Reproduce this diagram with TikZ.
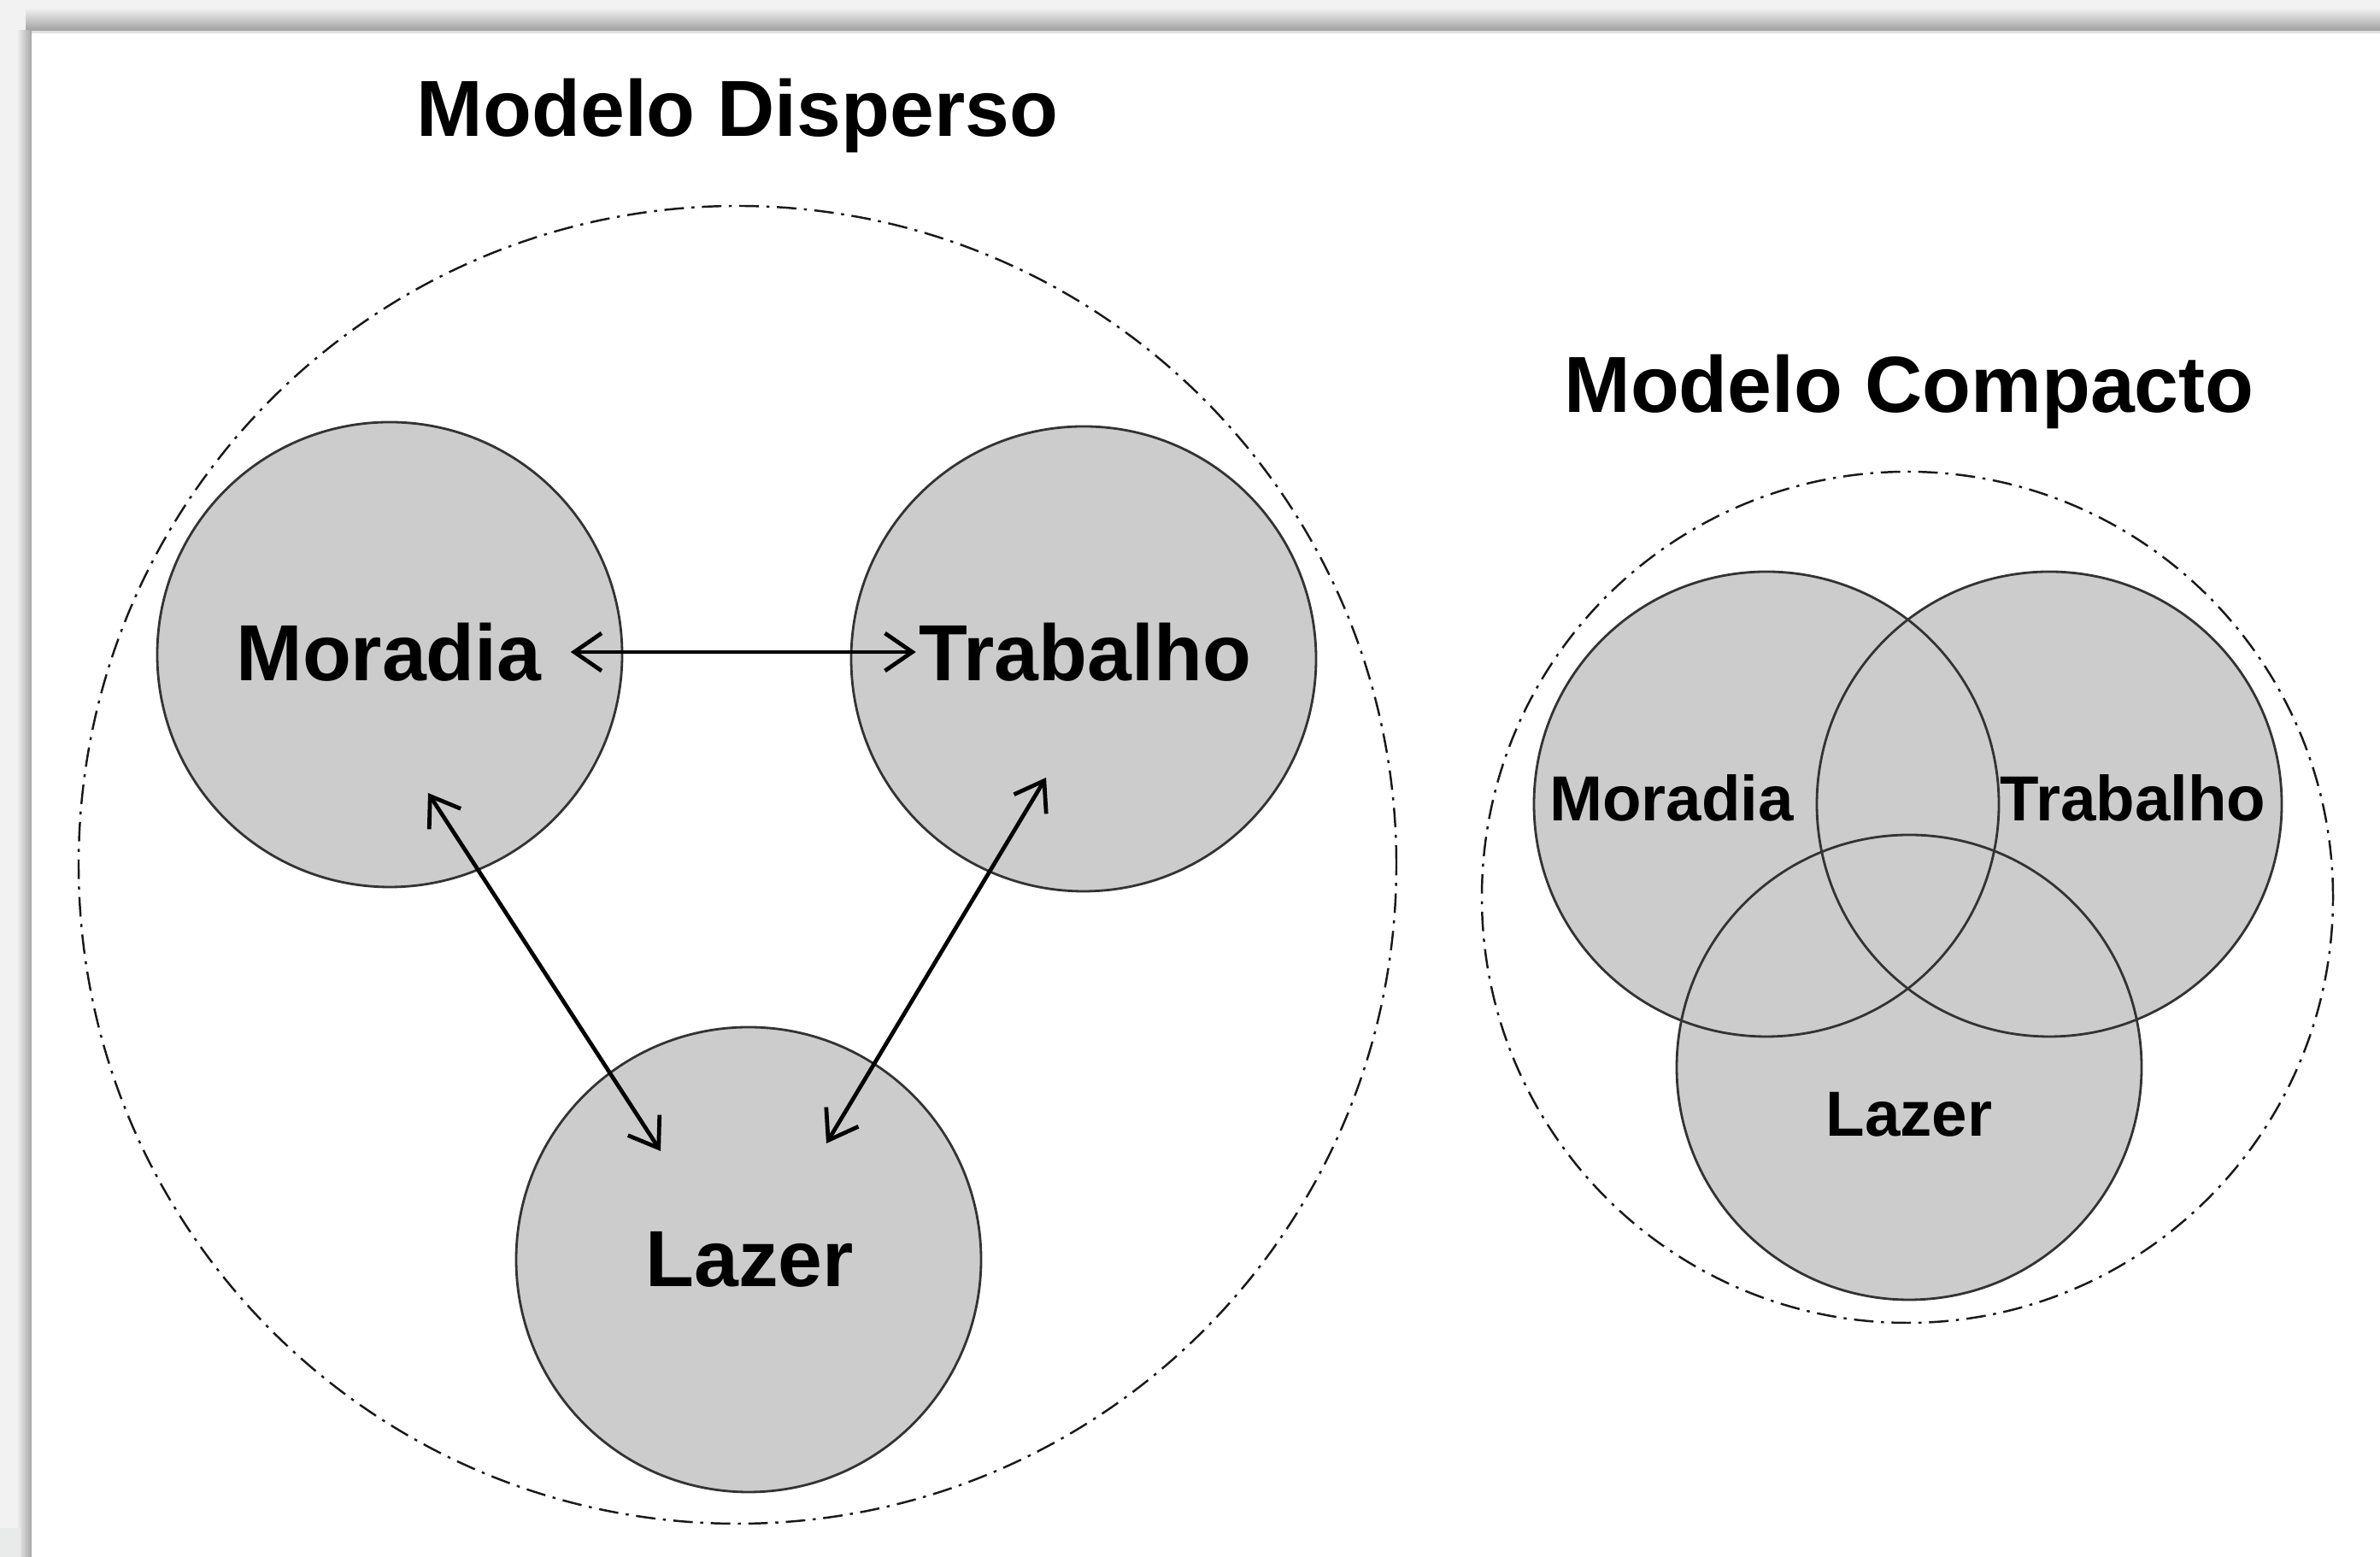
\documentclass[tikz,border=0pt]{standalone}
\usepackage{fontspec}
\setmainfont{Liberation Sans}
\usetikzlibrary{arrows.meta}

\begin{document}
\begin{tikzpicture}[
        area/.style={circle,fill=black!20,minimum size=5.44cm,inner sep=0pt},
        borda/.style={draw=black!80,line width=0.8pt},
        limite/.style={circle,draw=black!90,line width=0.7pt,dash pattern=on 6.5pt off 2.5pt on 1pt off 2.5pt,inner sep=0pt},
        rotulo/.style={font=\bfseries\fontsize{26.5}{31}\selectfont,inner sep=1pt},
        rotulop/.style={font=\bfseries\fontsize{21.2}{25}\selectfont,inner sep=1pt},
        seta/.style={line width=1.35pt,{Straight Barb[length=3.2mm,width=4.4mm]}-{Straight Barb[length=3.2mm,width=4.4mm]}}
    ]
        % moldura
        \fill[white] (0,0) rectangle (27.85,18.22);
        \useasboundingbox (0,0) rectangle (27.85,18.22);
        \fill[black!5] (0,17.83) rectangle (27.85,18.22);
        \fill[black!5] (0,0) rectangle (0.37,18.22);
        \shade[top color=black!6,bottom color=black!37] (0.30,17.86) rectangle (27.85,18.12);
        \fill[black!12] (0.37,17.83) rectangle (27.85,17.86);
        \shade[left color=black!6,right color=black!35] (0.20,0) rectangle (0.37,17.86);
        \fill[cyan!8!black!10] (0,0) rectangle (0.24,0.34);

        % modelo disperso
        \node[rotulo,anchor=base] (tdisp) at (8.63,16.62) {Modelo Disperso};
        \node[limite,minimum size=15.42cm] (disp) at (8.63,8.10) {};
        \node[area,borda] (mor) at (4.56,10.56) {};
        \node[area,borda] (tra) at (12.68,10.51) {};
        \node[area,borda] (laz) at (8.76,3.48) {};
        \node[rotulo] (tmor) at (4.55,10.59) {Moradia};
        \node[rotulo] (ttra) at (12.70,10.59) {Trabalho};
        \node[rotulo] (tlaz) at (8.77,3.48) {Lazer};
        \coordinate (m1) at ([shift={(0.45,-1.62)}]mor.center);
        \coordinate (t1) at ([shift={(-0.44,-1.39)}]tra.center);
        \coordinate (l1) at ([shift={(-1.03,1.27)}]laz.center);
        \coordinate (l2) at ([shift={(0.91,1.36)}]laz.center);
        \draw[seta] ([xshift=3mm]tmor.east) -- (ttra.west);
        \draw[seta] (m1) -- (l1);
        \draw[seta] (t1) -- (l2);

        % modelo compacto
        \node[rotulo,anchor=base] (tcomp) at (22.34,13.39) {Modelo Compacto};
        \node[limite,minimum size=9.96cm] (comp) at (22.32,7.72) {};
        \node[area] (vmor) at (20.67,8.81) {};
        \node[area] (vtra) at (23.98,8.81) {};
        \node[area] (vlaz) at (22.34,5.73) {};
        \foreach \c in {vmor,vtra,vlaz}
            \draw[borda] (\c) circle (2.72);
        \node[rotulop] (vtmor) at (19.56,8.88) {Moradia};
        \node[rotulop] (vttra) at (24.96,8.88) {Trabalho};
        \node[rotulop] (vtlaz) at (22.34,5.18) {Lazer};
    \end{tikzpicture}
\end{document}
